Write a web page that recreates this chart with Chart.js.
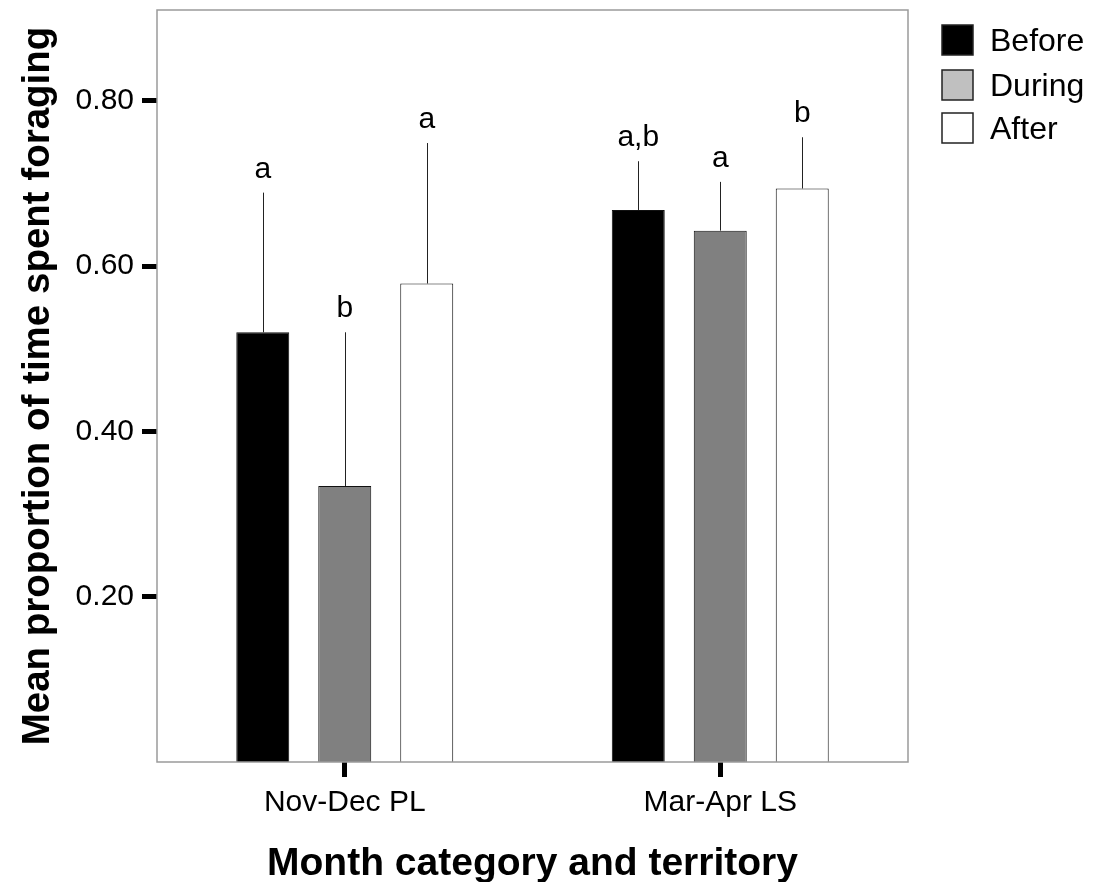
<!DOCTYPE html>
<html>
<head>
<meta charset="utf-8">
<script src="https://cdn.jsdelivr.net/npm/chart.js@4.4.1/dist/chart.umd.min.js"></script>
<style>
  html, body { margin: 0; padding: 0; background: #fff; }
  #wrap { width: 1101px; height: 882px; }
</style>
</head>
<body>
<div id="wrap"><canvas id="grafico" width="1101" height="882"></canvas></div>
<script>
// valores
const categorias = ['Nov-Dec PL', 'Mar-Apr LS'];
const series = ['Before', 'During', 'After'];
const before = [0.520, 0.668];
const during = [0.334, 0.643];
const after = [0.579, 0.694];
const seBefore = [0.169, 0.059];
const seDuring = [0.186, 0.059];
const seAfter = [0.170, 0.062];
const letrasBefore = ['a', 'a,b'];
const letrasDuring = ['b', 'a'];
const letrasAfter = ['a', 'b'];
const yTicks = [0.2, 0.4, 0.6, 0.8];

const FONTE = "'Liberation Sans', Arial, sans-serif";
const legendaCores = ['#000000', '#c0c0c0', '#ffffff'];
const legendaTopo = [25, 70, 113];

// barras de erro (só a linha de cima) + letras + moldura + legenda
const extras = {
  id: 'extras',
  afterDatasetsDraw(chart) {
    const ctx = chart.ctx, y = chart.scales.y;
    const area = chart.chartArea;
    chart.data.datasets.forEach((ds, i) => {
      const meta = chart.getDatasetMeta(i);
      meta.data.forEach((bar, j) => {
        const topo = y.getPixelForValue(ds.data[j] + ds.se[j]);
        ctx.save();
        ctx.strokeStyle = '#222';
        ctx.lineWidth = 1;
        ctx.beginPath();
        ctx.moveTo(Math.round(bar.x) + 0.5, bar.y);
        ctx.lineTo(Math.round(bar.x) + 0.5, topo);
        ctx.stroke();
        ctx.fillStyle = '#000';
        ctx.font = '30px ' + FONTE;
        ctx.textAlign = 'center';
        ctx.textBaseline = 'alphabetic';
        ctx.fillText(ds.letras[j], bar.x, topo - 15);
        ctx.restore();
      });
    });
    // moldura
    ctx.save();
    ctx.strokeStyle = '#9a9a9a';
    ctx.lineWidth = 1.5;
    ctx.strokeRect(area.left, area.top, area.right - area.left, area.bottom - area.top);
    ctx.restore();
    // legenda
    ctx.save();
    ctx.font = '32px ' + FONTE;
    ctx.textBaseline = 'alphabetic';
    series.forEach((s, i) => {
      const yy = legendaTopo[i];
      ctx.fillStyle = legendaCores[i];
      ctx.fillRect(942, yy, 31, 30);
      ctx.strokeStyle = '#222';
      ctx.lineWidth = 1.5;
      ctx.strokeRect(942, yy, 31, 30);
      ctx.fillStyle = '#000';
      ctx.fillText(s, 990, yy + 26);
    });
    ctx.restore();
  }
};

const ds = (label, data, se, letras, cor) => ({
  label, data, se, letras,
  backgroundColor: cor,
  borderColor: '#111',
  borderWidth: 1,
  barPercentage: 0.646,
  categoryPercentage: 0.655
});

new Chart(document.getElementById('grafico').getContext('2d'), {
  type: 'bar',
  data: {
    labels: categorias,
    datasets: [
      ds('Before', before, seBefore, letrasBefore, '#000000'),
      ds('During', during, seDuring, letrasDuring, '#808080'),
      ds('After', after, seAfter, letrasAfter, '#ffffff')
    ]
  },
  options: {
    responsive: false,
    animation: false,
    layout: { padding: { top: 10, right: 193, left: 0, bottom: 0 } },
    plugins: { legend: { display: false }, tooltip: { enabled: false } },
    scales: {
      x: {
        afterFit: s => { s.height = 120; },
        border: { display: false },
        grid: { offset: false, drawOnChartArea: false, drawTicks: true, tickLength: 15, tickWidth: 5, tickColor: '#000' },
        ticks: { color: '#000', font: { family: FONTE, size: 30 }, padding: 8 },
        title: { display: true, text: 'Month category and territory', color: '#000',
                 font: { family: FONTE, size: 39, weight: 'bold', lineHeight: 0.9 }, padding: 0 }
      },
      y: {
        min: 0, max: 0.91,
        afterFit: s => { s.width = 157; s.paddingTop = 0; s.paddingBottom = 0; },
        afterBuildTicks: s => { s.ticks = yTicks.map(v => ({ value: v })); },
        border: { display: false },
        grid: { drawOnChartArea: false, drawTicks: true, tickLength: 15, tickWidth: 5, tickColor: '#000' },
        ticks: { color: '#000', font: { family: FONTE, size: 30 }, padding: 8, callback: v => v.toFixed(2) },
        title: { display: true, text: 'Mean proportion of time spent foraging', color: '#000',
                 font: { family: FONTE, size: 38.5, weight: 'bold', lineHeight: 0.9 }, padding: { top: 21 } }
      }
    }
  },
  plugins: [extras]
});
</script>
</body>
</html>
